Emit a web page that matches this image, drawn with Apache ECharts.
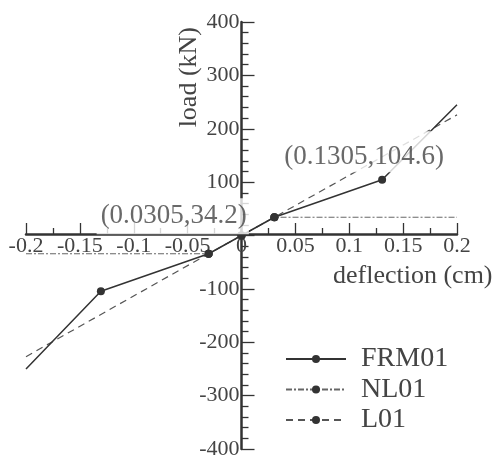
<!DOCTYPE html>
<html>
<head>
<meta charset="utf-8">
<script src="https://cdn.jsdelivr.net/npm/echarts@6/dist/echarts.min.js"></script>
<style>
html,body{margin:0;padding:0;background:#fff;}
#chart{width:496px;height:460px;}
</style>
</head>
<body>
<div id="chart"></div>
<script>
// ---- data ----
const xFRM01 = [-0.2, -0.1305, -0.0305, 0, 0.0305, 0.1305, 0.2];
const yFRM01 = [-250, -104.6, -34.2, 0, 34.2, 104.6, 245];
const xNL01 = [-0.2, -0.0305, 0, 0.0305, 0.2];
const yNL01 = [-34.2, -34.2, 0, 34.2, 34.2];
const xL01 = [-0.2, -0.0305, 0, 0.0305, 0.2];
const yL01 = [-227, -34.2, 0, 34.2, 226];
const annX = [0.0305, 0.1305];
const annY = [34.2, 104.6];
const annText = ['(0.0305,34.2)', '(0.1305,104.6)'];
const seriesNames = ['FRM01', 'NL01', 'L01'];
const xTicks = [-0.2, -0.15, -0.1, -0.05, 0, 0.05, 0.1, 0.15, 0.2];
const yTicks = [-400, -300, -200, -100, 0, 100, 200, 300, 400];

const FONT = 'Liberation Serif';
const INK = '#333';
const W = 496, H = 460;
const G = {left: 26, right: 39, top: 22, bottom: 8};
const xMin = xTicks[0], xMax = xTicks[xTicks.length - 1];
const yMin = yTicks[0], yMax = yTicks[yTicks.length - 1];
// shift the axes so they cross at zero (offset is layout only)
const yAxisOffset = -(W - G.left - G.right) * (0 - xMin) / (xMax - xMin);
const xAxisOffset = -(H - G.top - G.bottom) * (0 - yMin) / (yMax - yMin);

const zip = (xs, ys) => xs.map((x, i) => [x, ys[i]]);
const endHidden = (n) => (v, p) => (p.dataIndex === 0 || p.dataIndex === n - 1) ? 0 : 8;

const chart = echarts.init(document.getElementById('chart'), null, {renderer: 'canvas'});
const option = {
  animation: false,
  backgroundColor: '#fff',
  grid: Object.assign({containLabel: false}, G),
  xAxis: {
    type: 'value', min: xMin, max: xMax, interval: 0.05,
    position: 'bottom', offset: xAxisOffset,
    axisLine: {onZero: false, lineStyle: {color: INK, width: 2.5}},
    axisTick: {inside: true, length: 11, lineStyle: {color: INK, width: 1.3}},
    minorTick: {show: true, splitNumber: 2, length: 6, lineStyle: {color: INK, width: 1.3}},
    splitLine: {show: false},
    axisLabel: {fontFamily: FONT, fontSize: 22, color: '#444', margin: 1,
      formatter: v => String(+v.toFixed(3))}
  },
  yAxis: {
    type: 'value', min: yMin, max: yMax, interval: 100,
    position: 'left', offset: yAxisOffset,
    axisLine: {onZero: false, lineStyle: {color: INK, width: 2.5}},
    axisTick: {inside: true, length: 13, lineStyle: {color: INK, width: 1.3}},
    minorTick: {show: true, splitNumber: 5, length: 7, lineStyle: {color: INK, width: 1.3}},
    splitLine: {show: false},
    axisLabel: {fontFamily: FONT, fontSize: 22, color: '#444', margin: 2,
      formatter: v => v === 0 ? '' : String(v)}
  },
  legend: {
    data: seriesNames,
    orient: 'vertical', left: 280, top: 340, itemGap: 2.5,
    itemWidth: 60, itemHeight: 10,
    textStyle: {fontFamily: FONT, fontSize: 28, color: '#444', padding: [0, 0, 0, 10]}
  },
  graphic: [
    {type: 'text', left: 176, top: 27, rotation: Math.PI / 2, z: 20,
      style: {text: 'load (kN)', font: '26px "' + FONT + '"', fill: '#444'}},
    {type: 'text', left: 333, top: 263, z: 20,
      style: {text: 'deflection (cm)', font: '26px "' + FONT + '"', fill: '#444'}}
  ],
  series: [
    {name: 'FRM01', type: 'line', data: zip(xFRM01, yFRM01), z: 3,
      symbol: 'circle', symbolSize: endHidden(xFRM01.length), showAllSymbol: true,
      lineStyle: {color: INK, width: 1.5}, itemStyle: {color: INK}},
    {name: 'NL01', type: 'line', data: zip(xNL01, yNL01), z: 2,
      symbol: 'circle', symbolSize: endHidden(xNL01.length), showAllSymbol: true,
      lineStyle: {color: '#666', width: 1, type: [6, 2, 2, 2]}, itemStyle: {color: INK}},
    {name: 'L01', type: 'line', data: zip(xL01, yL01), z: 2,
      symbol: 'circle', symbolSize: endHidden(xL01.length), showAllSymbol: true,
      lineStyle: {color: '#555', width: 1.2, type: [7, 5]}, itemStyle: {color: INK}},
    {name: 'annotations', type: 'scatter', z: 10, silent: true,
      data: zip(annX, annY).map((p, i) => ({
        value: p,
        label: i === 0
          ? {position: 'left', distance: 25, offset: [0, -1], padding: [5, 2, 4, 4]}
          : {position: 'top', distance: 7, offset: [-18, 0], padding: [12, 4, 2, 4]}
      })),
      symbolSize: 1, itemStyle: {color: 'rgba(0,0,0,0)'},
      label: {show: true, fontFamily: FONT, fontSize: 27, color: '#444',
        backgroundColor: '#fff',
        formatter: p => annText[p.dataIndex]}}
  ]
};
chart.setOption(option);
</script>
</body>
</html>
